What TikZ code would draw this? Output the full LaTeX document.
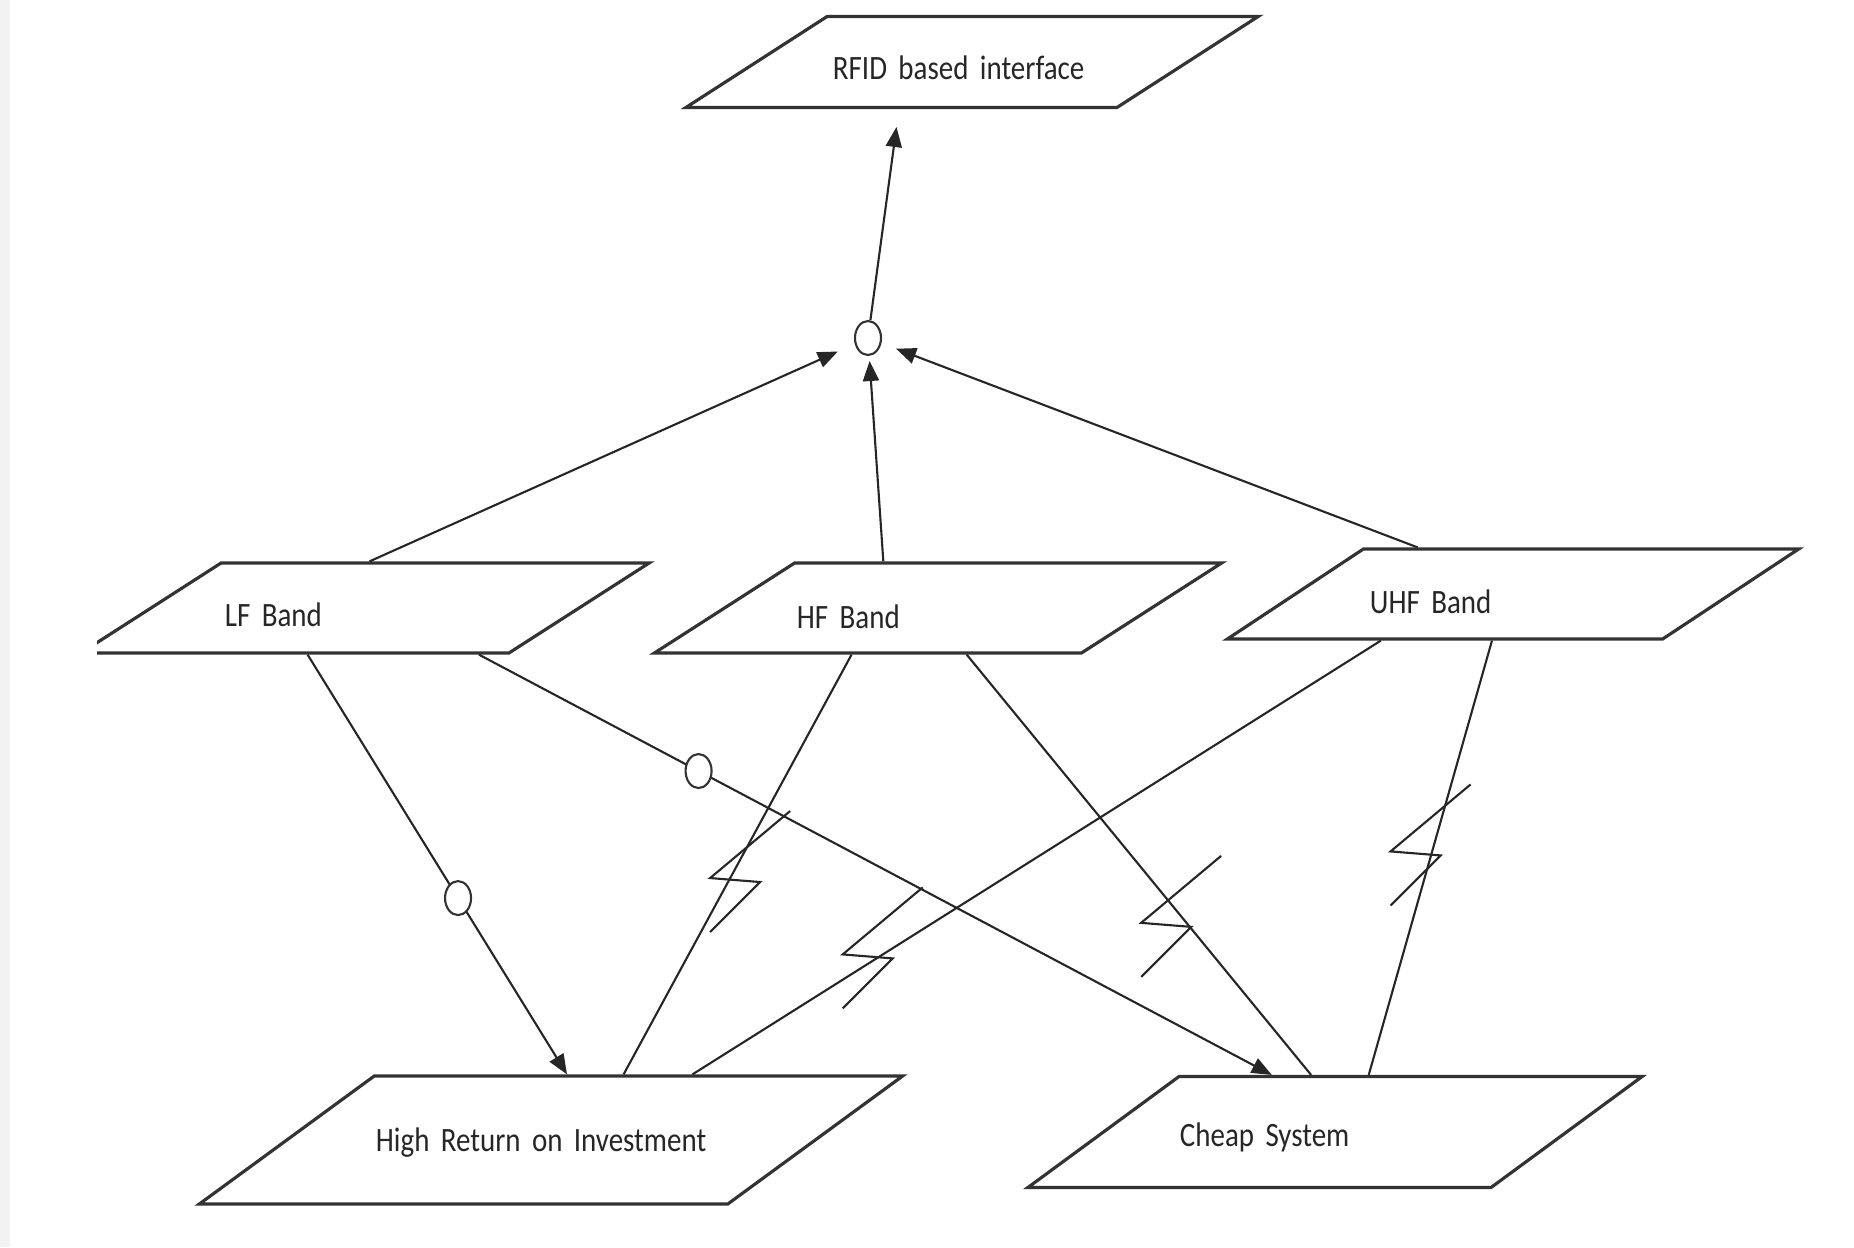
\documentclass[tikz,border=0pt]{standalone}
\usepackage{fontspec}
\setmainfont{Carlito}[FakeStretch=0.85]
\usetikzlibrary{shapes.geometric,arrows.meta,calc}
\tikzset{
  band/.style={draw=black!80, line width=0.9pt, trapezium, trapezium stretches body,
    inner xsep=0pt, inner ysep=0pt, align=left, text=black!85, font=\fontsize{9.7}{11}\selectfont},
  andor/.style={draw=black!80, line width=0.6pt, ellipse, fill=white, inner sep=0pt,
    minimum width=0.26cm, minimum height=0.34cm},
  link/.style={draw=black!85, line width=0.6pt},
  arr/.style={-{Triangle[length=0.2cm,width=0.16cm]}},
  breaksym/.pic={\draw[link] (43,-69) -- (-37,-2) -- (13,2) -- (-37,52);}
}
\begin{document}
\begin{tikzpicture}[x=0.01cm, y=-0.01cm]
\useasboundingbox (0,0) rectangle (1854,1247);
\fill[black!5] (0,0) rectangle (10,1247);

\node[band, trapezium left angle=32.8, trapezium right angle=147.2, minimum width=5.72cm, text height=0.625cm, text depth=0.285cm, text width=2.78cm] (rfid) at (972,62) {RFID based interface};
\begin{scope}
\clip (97,0) rectangle (1854,1247);
\node[band, trapezium left angle=32.7, trapezium right angle=147.3, minimum width=5.68cm, text height=0.63cm, text depth=0.27cm, text width=2.8cm] (lf) at (365,608) {LF Band};
\end{scope}
\node[band, trapezium left angle=32.7, trapezium right angle=147.3, minimum width=5.67cm, text height=0.65cm, text depth=0.25cm, text width=2.82cm] (hf) at (938,608) {HF Band};
\node[band, trapezium left angle=33.5, trapezium right angle=146.5, minimum width=5.71cm, text height=0.64cm, text depth=0.26cm, text width=2.86cm] (uhf) at (1513,594) {UHF Band};
\node[band, trapezium left angle=36.2, trapezium right angle=143.8, minimum width=7.03cm, text height=0.75cm, text depth=0.53cm, text width=3.5cm] (hroi) at (551,1140) {High Return on Investment};
\node[band, trapezium left angle=36.3, trapezium right angle=143.7, minimum width=6.14cm, text height=0.695cm, text depth=0.415cm, text width=3.1cm] (cheap) at (1335,1132) {Cheap System};

\node[andor] (or1) at (868,338) {};

% bands up to the interface
\draw[link, arr, shorten >=0.185cm] ($(lf.top left corner)!0.343!(lf.top right corner)$) -- (or1);
\draw[link, arr, shorten >=0.05cm] ($(hf.top left corner)!0.206!(hf.top right corner)$) -- (or1);
\draw[link, arr, shorten >=0.156cm] ($(uhf.top left corner)!0.124!(uhf.top right corner)$) -- (or1);
\draw[link, arr, shorten >=0.18cm] (or1) -- ($(rfid.bottom left corner)!0.5!(rfid.bottom right corner)$);

% bands down to the softgoals
\draw[link, arr] ($(lf.bottom left corner)!0.535!(lf.bottom right corner)$) -- node[andor, pos=0.58] (or2) {} ($(hroi.top left corner)!0.362!(hroi.top right corner)$);
\draw[link, arr] ($(lf.bottom left corner)!0.93!(lf.bottom right corner)$) -- node[andor, pos=0.277] (or3) {} ($(cheap.top left corner)!0.199!(cheap.top right corner)$);

\draw[link] ($(hf.bottom left corner)!0.468!(hf.bottom right corner)$) -- coordinate[pos=0.537] (z1) ($(hroi.top left corner)!0.468!(hroi.top right corner)$);
\draw[link] ($(uhf.bottom left corner)!0.36!(uhf.bottom right corner)$) -- coordinate[pos=0.728] (z2) ($(hroi.top left corner)!0.597!(hroi.top right corner)$);
\draw[link] ($(hf.bottom left corner)!0.734!(hf.bottom right corner)$) -- coordinate[pos=0.643] (z3) ($(cheap.top left corner)!0.283!(cheap.top right corner)$);
\draw[link] ($(uhf.bottom left corner)!0.612!(uhf.bottom right corner)$) -- coordinate[pos=0.49] (z4) ($(cheap.top left corner)!0.406!(cheap.top right corner)$);

\pic[xshift=0.18cm] at (z1) {breaksym};
\pic at (z2) {breaksym};
\pic[xshift=-0.1cm] at (z3) {breaksym};
\pic[xshift=-0.04cm] at (z4) {breaksym};
\end{tikzpicture}
\end{document}
